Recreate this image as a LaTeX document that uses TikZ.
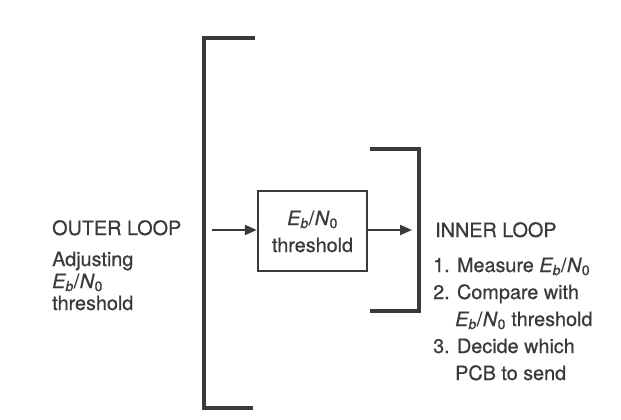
\documentclass[tikz,border=0pt]{standalone}
\usepackage{fontspec}
\setmainfont[FakeBold=0.6,AutoFakeBold=0.6]{TeX Gyre Heros}
\usetikzlibrary{arrows.meta}
\newcommand\ebno{\textit{E}\kern-0.5pt\textsubscript{\textit{b}}/\kern0.5pt\textit{N}\textsubscript{0}}
\definecolor{ink}{HTML}{3A3A3A}
\tikzset{
  lbl/.style={anchor=base west,inner sep=0pt,text=ink,font=\fontsize{19.8}{22}\selectfont\bfseries},
  ctr/.style={anchor=base,inner sep=0pt,text=ink,font=\fontsize{19.8}{22}\selectfont\bfseries},
  bracket/.style={draw=ink,line width=4pt,miter limit=10},
  thbox/.style={draw=ink,line width=2.4pt,minimum width=109pt,minimum height=80pt,inner sep=0pt},
  arr/.style={draw=ink,line width=2pt,-{Triangle[length=12pt,width=10pt]}}
}
\begin{document}
\begin{tikzpicture}[x=1pt,y=-1pt]
\useasboundingbox[fill=white] (0,0) rectangle (621,420);
% outer bracket
\draw[bracket] (255,38) -- (204,38) -- (204,408) -- (253,408);
% inner bracket
\draw[bracket,line width=3.6pt] (370,149) -- (419,149) -- (419,311) -- (370,311);
% outer loop text
\node[lbl] (outer) at (52,235) {OUTER LOOP};
\node[lbl] (adj1) at (52,266) {Adjusting};
\node[lbl] (adj2) at (52,288) {\ebno};
\node[lbl] (adj3) at (52,310) {threshold};
% threshold box
\node[thbox] (box) at (312.5,231) {};
\node[ctr] (boxt1) at (312.5,225) {\ebno};
\node[ctr] (boxt2) at (312.5,252) {threshold};
% arrows
\coordinate (ain) at (212,230);
\coordinate (aout) at (412,230);
\draw[arr] (ain) -- (box.west |- ain);
\draw[arr] (box.east |- aout) -- (aout);
% inner loop text
\node[lbl] (inner) at (435,237) {INNER LOOP};
\node[lbl] (i1) at (433,272) {1. Measure \ebno};
\node[lbl] (i2) at (433,299) {2. Compare with};
\node[lbl] (i2b) at (455,326) {\ebno\ threshold};
\node[lbl] (i3) at (433,353) {3. Decide which};
\node[lbl] (i3b) at (455,380) {PCB to send};
\end{tikzpicture}
\end{document}
